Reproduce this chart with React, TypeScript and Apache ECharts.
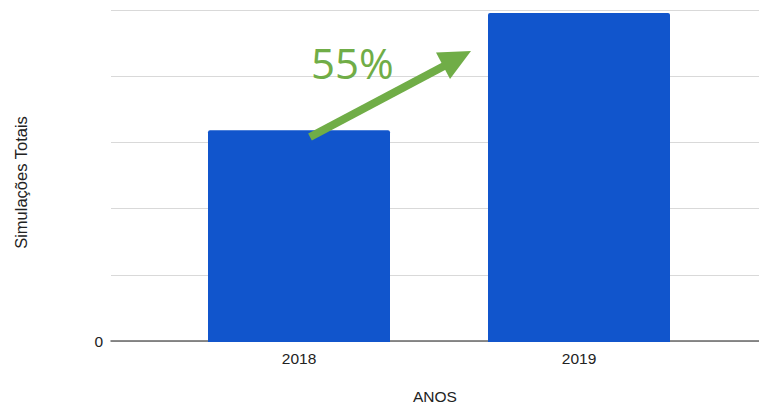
import React, { useEffect, useRef } from "react";
import * as echarts from "echarts";

const categories = ["2018", "2019"];
const simulacoes = [3190, 4955];
const yMax = 5000;
const yInterval = 1000;
const growthLabel = "55%";

export default function App() {
  const ref = useRef<HTMLDivElement>(null);
  useEffect(() => {
    if (!ref.current) return;
    const chart = echarts.init(ref.current, null, { renderer: "svg" });
    const green = "#70AD47";
    chart.setOption({
      animation: false,
      textStyle: { fontFamily: "Liberation Sans, Arial, sans-serif" },
      grid: [
        { left: 111, right: 0, top: 10, bottom: 67 },
        { left: 159, right: 40, top: 10, bottom: 67 },
      ],
      xAxis: [
        {
          type: "category",
          gridIndex: 0,
          data: ["a"],
          axisLine: { show: true, lineStyle: { color: "#666", width: 1.5 } },
          axisTick: { show: false },
          axisLabel: { show: false },
          name: "ANOS",
          nameLocation: "middle",
          nameGap: 47,
          nameTextStyle: { color: "#222", fontSize: 15.5 },
        },
        {
          type: "category",
          gridIndex: 1,
          data: categories,
          axisLine: { show: false },
          axisTick: { show: false },
          axisLabel: { color: "#222", fontSize: 15.5, margin: 8 },
        },
      ],
      yAxis: [
        {
          type: "value",
          gridIndex: 0,
          min: 0,
          max: yMax,
          interval: yInterval,
          axisLine: { show: false },
          axisTick: { show: false },
          splitLine: { lineStyle: { color: "#d9d9d9", width: 1 } },
          axisLabel: {
            color: "#222",
            fontSize: 15.5,
            margin: 8,
            formatter: (v: number) => (v === 0 ? "0" : ""),
          },
          name: "Simulações Totais",
          nameLocation: "middle",
          nameGap: 82,
          nameRotate: 90,
          nameTextStyle: { color: "#222", fontSize: 16.5, padding: [0, 14, 0, 0] },
        },
        {
          type: "value",
          gridIndex: 1,
          min: 0,
          max: yMax,
          interval: yInterval,
          show: false,
          splitLine: { show: false },
        },
      ],
      series: [
        {
          type: "bar",
          xAxisIndex: 1,
          yAxisIndex: 1,
          data: simulacoes,
          barWidth: "65%",
          itemStyle: { color: "#1155CC", borderRadius: [2, 2, 0, 0] },
        },
      ],
      graphic: [
        {
          type: "line",
          z: 100,
          shape: { x1: 310, y1: 137, x2: 446, y2: 65 },
          style: { stroke: green, lineWidth: 8 },
        },
        {
          type: "polygon",
          z: 100,
          shape: { points: [[471, 51], [436, 52.5], [450, 79]] },
          style: { fill: green },
        },
        {
          type: "text",
          z: 100,
          x: 311,
          y: 83,
          style: {
            text: growthLabel,
            fill: green,
            font: "42px 'Open Sans', sans-serif",
            textVerticalAlign: "bottom",
            verticalAlign: "bottom",
          },
        },
      ],
    });
    return () => chart.dispose();
  }, []);
  return (
    <div
      ref={ref}
      style={{ position: "absolute", left: 0, top: 0, width: 759, height: 409 }}
    />
  );
}
